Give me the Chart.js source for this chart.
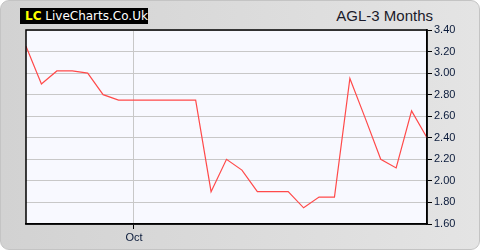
<!DOCTYPE html>
<html lang="en">
<head>
    <meta charset="UTF-8">
    <title>AGL-3 Months</title>
    <script src="https://cdn.jsdelivr.net/npm/chart.js"></script>
    <style>
        body { margin: 0; background: #fff; }
        .janela {
            position: relative; width: 478px; height: 248px;
            border: 1px solid #c4c4c4; border-radius: 9px;
            background: linear-gradient(to right, #d2d2d2, #e4e4e4);
            overflow: hidden;
        }
        .logo {
            position: absolute; left: 19px; top: 7px; width: 128px; height: 16px;
            background: #000; color: #fff; font: 12px "DejaVu Sans", sans-serif;
            line-height: 16px; padding-left: 5px; box-sizing: border-box; white-space: nowrap;
        }
        .logo b { color: #ffff00; font-weight: bold; }
        .titulo {
            position: absolute; right: 46px; top: 6px;
            font: 15px "Liberation Sans", Arial, sans-serif; color: #1a1a2a;
        }
        canvas { position: absolute; left: -1px; top: -1px; }
    </style>
</head>
<body>
    <div class="janela">
        <div class="logo"><b>LC</b> LiveCharts.Co.Uk</div>
        <div class="titulo">AGL-3 Months</div>
        <canvas id="myChartCanvas" width="480" height="250"></canvas>
    </div>
<script>
    // categorias (so o rotulo de Oct aparece)
    const rotulos = ['', '', '', '', '', '', '', 'Oct', '', '', '', '', '', '',
                     '', '', '', '', '', '', '', '', '', '', '', '', ''];
    const precos = [3.25, 2.90, 3.02, 3.02, 3.00, 2.80, 2.75, 2.75, 2.75, 2.75, 2.75, 2.75, 1.90, 2.20,
                    2.10, 1.90, 1.90, 1.90, 1.75, 1.85, 1.85, 2.95, 2.58, 2.20, 2.12, 2.65, 2.40];
    const yMin = 1.60;
    const yMax = 3.40;
    const yPasso = 0.20;

    // fundo e moldura da area do grafico
    const moldura = {
        id: 'moldura',
        beforeDraw(chart) {
            const a = chart.chartArea, ctx = chart.ctx;
            ctx.save();
            ctx.fillStyle = '#f8f9ff';
            ctx.fillRect(a.left, a.top, a.right - a.left, a.bottom - a.top);
            ctx.restore();
        },
        afterDraw(chart) {
            const a = chart.chartArea, ctx = chart.ctx;
            ctx.save();
            ctx.strokeStyle = '#000';
            ctx.lineWidth = 1.5;
            ctx.strokeRect(a.left, a.top, a.right - a.left, a.bottom - a.top);
            ctx.restore();
        }
    };

    const config = {
        type: 'line',
        data: {
            labels: rotulos,
            datasets: [{
                data: precos,
                borderColor: '#ff4a4a',
                borderWidth: 1.2,
                pointRadius: 0,
                tension: 0,
                fill: false
            }]
        },
        options: {
            responsive: false,
            animation: false,
            layout: { padding: { left: 26, top: 30, right: 0, bottom: 0 } },
            plugins: { legend: { display: false }, tooltip: { enabled: false } },
            scales: {
                x: {
                    offset: false,
                    afterFit(scale) { scale.height = 26; },
                    grid: {
                        color: c => (c.tick && c.tick.label === 'Oct') ? '#c8c8c8' : 'transparent',
                        tickColor: c => (c.tick && c.tick.label === 'Oct') ? '#000' : 'transparent',
                        tickLength: 5
                    },
                    border: { color: '#000', width: 1.5 },
                    ticks: {
                        autoSkip: false, maxRotation: 0, padding: 2,
                        color: '#0a1a3a', font: { family: 'Liberation Sans', size: 11 }
                    }
                },
                y: {
                    position: 'right',
                    min: yMin, max: yMax,
                    afterFit(scale) { scale.width = 53; },
                    grid: { color: '#c8c8c8', tickColor: '#000', tickLength: 5 },
                    border: { color: '#000', width: 1.5 },
                    ticks: {
                        stepSize: yPasso, padding: 2,
                        color: '#0a1a3a', font: { family: 'Liberation Sans', size: 11 },
                        callback: v => v.toFixed(2)
                    }
                }
            }
        },
        plugins: [moldura]
    };

    let myChart = new Chart(document.getElementById('myChartCanvas'), config);
</script>
</body>
</html>
